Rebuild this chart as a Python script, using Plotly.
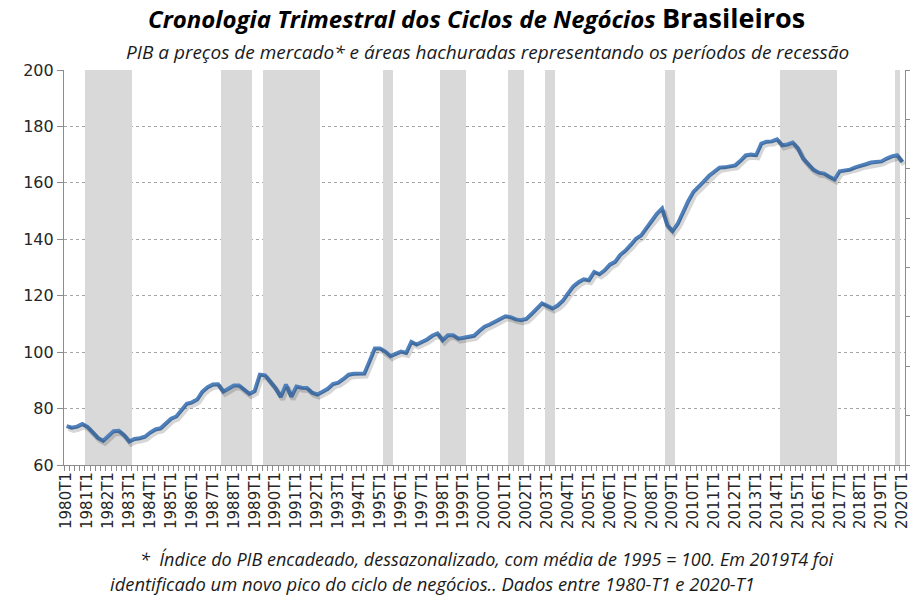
import plotly.graph_objects as go

years = list(range(1980, 2021))
quarters = [f"{y}T{q}" for y in years for q in range(1, 5)][:161]

pib = [
    73.8, 73.2, 73.6, 74.5,   # 1980
    73.5, 71.5, 69.6, 68.6,   # 1981
    70.2, 72.0, 72.1, 70.6,   # 1982
    68.3, 69.2, 69.5, 70.0,   # 1983
    71.5, 72.6, 73.0, 74.8,   # 1984
    76.4, 77.2, 79.5, 81.7,   # 1985
    82.2, 83.2, 86.0, 87.6,   # 1986
    88.5, 88.6, 86.0, 87.2,   # 1987
    88.2, 88.2, 86.8, 85.2,   # 1988
    86.2, 92.0, 91.8, 89.6,   # 1989
    87.2, 84.1, 88.5, 84.2,   # 1990
    87.8, 87.4, 87.3, 85.6,   # 1991
    85.0, 86.0, 87.0, 88.7,   # 1992
    89.2, 90.5, 92.0, 92.3,   # 1993
    92.2, 92.4, 96.8, 101.3,  # 1994
    101.3, 100.2, 98.6, 99.6, # 1995
    100.2, 99.7, 103.6, 102.7,  # 1996
    103.5, 104.5, 105.8, 106.6, # 1997
    104.2, 106.0, 106.0, 104.8, # 1998
    105.1, 105.4, 105.8, 107.5, # 1999
    109.0, 109.8, 110.8, 112.0, # 2000
    112.7, 112.4, 111.6, 111.3, # 2001
    111.8, 113.5, 115.5, 117.3, # 2002
    116.4, 115.5, 116.5, 118.2, # 2003
    120.8, 123.3, 124.8, 125.8, # 2004
    125.5, 128.4, 127.6, 129.0, # 2005
    131.0, 132.0, 134.5, 136.0, # 2006
    138.0, 140.2, 141.4, 144.2, # 2007
    146.5, 149.0, 150.9, 144.9, # 2008
    142.9, 145.5, 149.6, 153.5, # 2009
    156.8, 158.5, 160.5, 162.5, # 2010
    164.0, 165.4, 165.5, 166.0, # 2011
    166.2, 167.8, 169.7, 170.0, # 2012
    169.8, 173.9, 174.6, 174.7, # 2013
    175.4, 173.3, 173.6, 174.3, # 2014
    172.2, 168.6, 166.4, 164.6, # 2015
    163.6, 163.3, 162.2, 161.2, # 2016
    164.1, 164.5, 164.7, 165.5, # 2017
    166.2, 166.6, 167.2, 167.4, # 2018
    167.6, 168.6, 169.4, 169.8, # 2019
    167.4,                      # 2020
]

recessions = [
    ("1981T1", "1983T1"), ("1987T3", "1988T4"), ("1989T3", "1992T1"),
    ("1995T2", "1995T3"), ("1998T1", "1999T1"), ("2001T2", "2001T4"),
    ("2003T1", "2003T2"), ("2008T4", "2009T1"), ("2014T2", "2016T4"),
    ("2019T4", "2019T4"),
]

y_min, y_max = 60, 200

idx = {q: i for i, q in enumerate(quarters)}
in_rec = [False] * len(quarters)
for a, b in recessions:
    for i in range(idx[a], idx[b] + 1):
        in_rec[i] = True
rec_heights = [(y_max - y_min) if r else None for r in in_rec]

tick_text = [q if q.endswith("T1") else "" for q in quarters]

axis_grey = "#8C8C8C"
line_blue = "#4F81BD"

fig = go.Figure()

fig.add_trace(go.Bar(
    x=quarters, y=rec_heights, base=y_min, width=1,
    marker=dict(color="#D9D9D9", line=dict(width=0)),
    hoverinfo="skip", showlegend=False,
))

# soft drop shadow of the line (drawn on slightly shifted overlay axes)
fig.add_trace(go.Scatter(
    x=quarters, y=pib, mode="lines", xaxis="x3", yaxis="y3",
    line=dict(color="rgba(0,0,0,0.16)", width=5),
    hoverinfo="skip", showlegend=False,
))

fig.add_trace(go.Scatter(
    x=quarters, y=pib, mode="lines",
    line=dict(color=line_blue, width=4),
    showlegend=False,
))

fig.add_trace(go.Scatter(x=[quarters[0]], y=[None], yaxis="y2",
                         showlegend=False, hoverinfo="skip"))

n = len(quarters)
fig.update_layout(
    width=917, height=597,
    margin=dict(l=64, r=6, t=70, b=132),
    paper_bgcolor="white", plot_bgcolor="white",
    bargap=0,
    font=dict(family="DejaVu Sans", color="#262626"),
    xaxis=dict(
        type="category", categoryorder="array", categoryarray=quarters,
        range=[-0.5, n - 0.5],
        tickmode="array", tickvals=quarters, ticktext=tick_text,
        tickson="boundaries", ticks="outside", ticklen=5, tickcolor=axis_grey,
        tickangle=-90, tickfont=dict(family="DejaVu Sans", size=15, color="#262626"),
        showline=True, linecolor=axis_grey, linewidth=1.2,
        showgrid=False, zeroline=False,
    ),
    yaxis=dict(
        range=[y_min, y_max], dtick=20, tick0=0,
        showgrid=True, gridcolor="#A6A6A6", griddash="dot", gridwidth=1,
        ticks="outside", ticklen=6, tickcolor=axis_grey,
        showline=True, linecolor=axis_grey, linewidth=1.2,
        zeroline=False,
        tickfont=dict(family="DejaVu Sans", size=16, color="#262626"),
    ),
    yaxis2=dict(
        overlaying="y", side="right", range=[0, 8], dtick=1, tick0=0,
        ticks="outside", ticklen=4, tickcolor=axis_grey,
        showticklabels=False, showgrid=False, zeroline=False,
        showline=True, linecolor=axis_grey, linewidth=1.2,
    ),
    xaxis3=dict(
        overlaying="x", type="category", categoryorder="array",
        categoryarray=quarters, range=[-0.5 - 0.35, n - 0.5 - 0.35],
        visible=False,
    ),
    yaxis3=dict(
        overlaying="y", range=[y_min + 0.9, y_max + 0.9], visible=False,
    ),
)

plot_h = 597 - 70 - 132


def py(pix):
    return (597 - 132 - pix) / plot_h


fig.add_annotation(
    x=0.491, y=py(18), xref="paper", yref="paper", showarrow=False,
    xanchor="center", yanchor="middle",
    text="<b><i>Cronologia Trimestral dos Ciclos de Negócios</i> "
         "<span style='font-size:27px'>Brasileiros</span></b>",
    font=dict(family="Open Sans", size=24, color="black"),
)
fig.add_annotation(
    x=0.503, y=py(52), xref="paper", yref="paper", showarrow=False,
    xanchor="center", yanchor="middle",
    text="<i>PIB a preços de mercado* e áreas hachuradas representando os períodos de recessão</i>",
    font=dict(family="Open Sans", size=19, color="#1a1a1a"),
)
fig.add_annotation(
    x=(139 - 64) / 847, y=py(558.5), xref="paper", yref="paper", showarrow=False,
    xanchor="left", yanchor="middle",
    text="<i>*  Índice do PIB encadeado, dessazonalizado, com média de 1995 = 100. Em 2019T4 foi</i>",
    font=dict(family="Open Sans", size=18, color="#1a1a1a"),
)
fig.add_annotation(
    x=(108 - 64) / 847, y=py(583.5), xref="paper", yref="paper", showarrow=False,
    xanchor="left", yanchor="middle",
    text="<i>identificado um novo pico do ciclo de negócios.. Dados entre 1980-T1 e 2020-T1</i>",
    font=dict(family="Open Sans", size=18.4, color="#1a1a1a"),
)

fig.write_html(
    "out.html",
    config={"displayModeBar": False},
    post_script="document.body.style.margin='0';document.body.style.overflow='hidden';",
)
